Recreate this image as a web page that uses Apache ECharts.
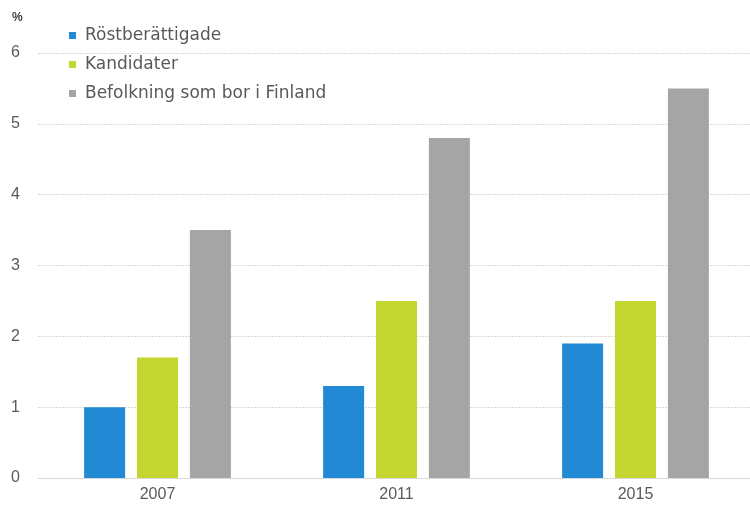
<!DOCTYPE html>
<html>
<head>
<meta charset="utf-8">
<script src="https://cdn.jsdelivr.net/npm/echarts@6/dist/echarts.min.js"></script>
<style>
  html, body { margin: 0; padding: 0; background: #fff; }
  #chart { width: 750px; height: 510px; }
</style>
</head>
<body>
<div id="chart"></div>
<script>
const years = ['2007', '2011', '2015'];
const rostberattigade = [1.0, 1.3, 1.9];
const kandidater = [1.7, 2.5, 2.5];
const befolkning = [3.5, 4.8, 5.5];

const chart = echarts.init(document.getElementById('chart'));
const textColor = '#595959';
const font = 'Arial, "Liberation Sans", sans-serif';

chart.setOption({
  animation: false,
  textStyle: { fontFamily: font },
  grid: { left: 38, width: 717, top: 53, bottom: 32, outerBoundsMode: 'none' },
  graphic: [
    {
      type: 'text',
      left: 12,
      top: 12,
      style: { text: '%', fontSize: 12, fontWeight: 'bold', fill: '#404040', fontFamily: font },
    },
  ],
  legend: {
    orient: 'vertical',
    left: 64,
    top: 22,
    itemGap: 12,
    itemWidth: 7,
    itemHeight: 7,
    icon: 'rect',
    textStyle: { color: textColor, fontSize: 17, fontFamily: '"DejaVu Sans", sans-serif', padding: [0, 0, 0, 4] },
    data: ['Röstberättigade', 'Kandidater', 'Befolkning som bor i Finland'],
  },
  xAxis: {
    type: 'category',
    data: years,
    axisTick: { show: false },
    axisLine: { lineStyle: { color: '#d9d9d9' } },
    axisLabel: { color: textColor, fontSize: 16, margin: 9 },
  },
  yAxis: {
    type: 'value',
    min: 0,
    max: 6,
    interval: 1,
    axisLabel: { color: textColor, fontSize: 16, margin: 18, align: 'right' },
    splitLine: { lineStyle: { color: '#d9d9d9', type: [2, 1] } },
  },
  series: [
    {
      name: 'Röstberättigade',
      type: 'bar',
      data: rostberattigade,
      barWidth: 41,
      barGap: '29%',
      itemStyle: { color: '#228ad4' },
    },
    {
      name: 'Kandidater',
      type: 'bar',
      data: kandidater,
      barWidth: 41,
      barGap: '29%',
      itemStyle: { color: '#c2d62f' },
    },
    {
      name: 'Befolkning som bor i Finland',
      type: 'bar',
      data: befolkning,
      barWidth: 41,
      barGap: '29%',
      itemStyle: { color: '#a5a5a5' },
    },
  ],
});
</script>
</body>
</html>
